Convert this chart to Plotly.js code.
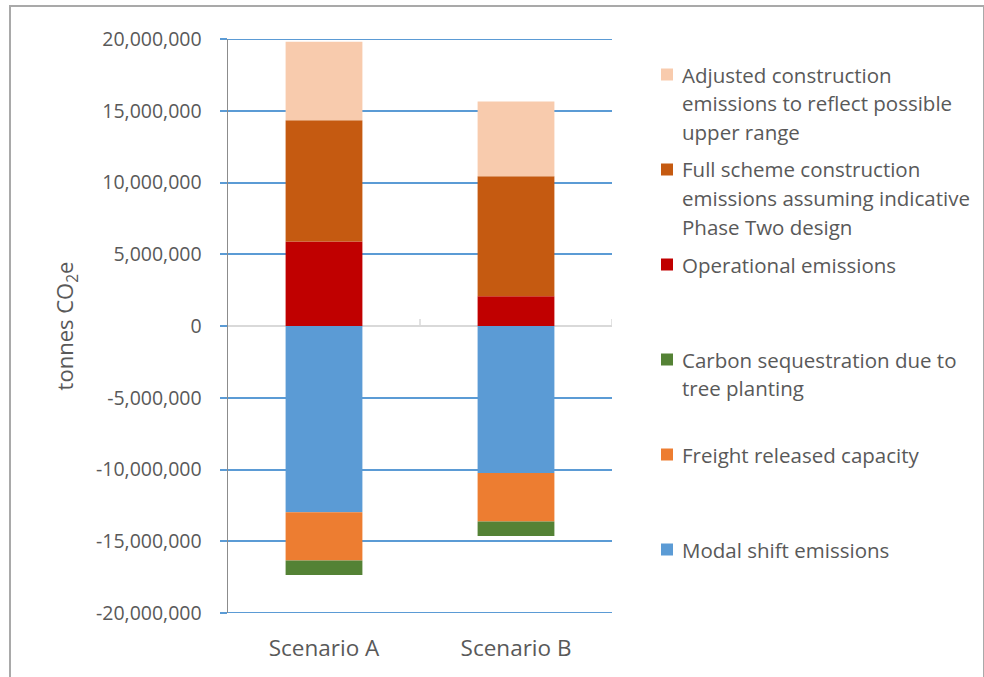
<!DOCTYPE html>
<html><head><meta charset="utf-8">
<script src="https://cdn.plot.ly/plotly-3.0.1.min.js"></script>
<style>
html,body{margin:0;padding:0;background:#fff;}
#chart{width:984px;height:677px;}
#frame{position:absolute;left:9px;top:5px;width:972px;height:700px;border:2px solid #a9a9a9;pointer-events:none;}
</style>
</head><body>
<div id="chart"></div><div id="frame"></div>
<script>
// ---- data ----
const categories = ['Scenario A', 'Scenario B'];
const operational = [5880000, 2070000];
const fullScheme = [8460000, 8370000];
const adjusted = [5460000, 5200000];
const modalShift = [-12980000, -10240000];
const freight = [-3370000, -3390000];
const carbon = [-1000000, -1000000];
const seriesNames = {
  adjusted: 'Adjusted construction<br>emissions to reflect possible<br>upper range',
  fullScheme: 'Full scheme construction<br>emissions assuming indicative<br>Phase Two design',
  operational: 'Operational emissions',
  carbon: 'Carbon sequestration due to<br>tree planting',
  freight: 'Freight released capacity',
  modalShift: 'Modal shift emissions'
};
const yTickVals = [-20000000, -15000000, -10000000, -5000000, 0, 5000000, 10000000, 15000000, 20000000];
const yTickText = ['-20,000,000', '-15,000,000', '-10,000,000', '-5,000,000', '0', '5,000,000', '10,000,000', '15,000,000', '20,000,000'];

// ---- styles ----
const colors = {
  adjusted: '#f8cbad', fullScheme: '#c55a11', operational: '#c00000',
  carbon: '#548235', freight: '#ed7d31', modalShift: '#5b9bd5'
};
const FONT = 'Open Sans, sans-serif';
const TXT = '#595959';
const GRID = '#5b9bd5';
const W = 984, H = 677, M = {l: 228, r: 372, t: 39, b: 64};
const PW = W - M.l - M.r, PH = H - M.t - M.b;
const px2x = px => (px - M.l) / PW;
const px2y = py => (H - M.b - py) / PH;

const seriesData = {operational, fullScheme, adjusted, modalShift, freight, carbon};
const stackOrder = ['operational', 'fullScheme', 'adjusted', 'modalShift', 'freight', 'carbon'];
const traces = stackOrder.map(k => ({
  type: 'bar', x: categories, y: seriesData[k], name: seriesNames[k].replace(/<br>/g, ' '),
  marker: {color: colors[k], line: {width: 0}}, showlegend: false, hoverinfo: 'y+name'
}));

// ---- manual legend (Excel-style even spacing) ----
const legendOrder = ['adjusted', 'fullScheme', 'operational', 'carbon', 'freight', 'modalShift'];
const annotations = [];
const shapes = [];
// gridlines at the range ends (Plotly omits them at the edges)
[yTickVals[0], yTickVals[yTickVals.length - 1]].forEach(v => shapes.push({
  type: 'line', xref: 'paper', yref: 'y', x0: 0, x1: 1, y0: v, y1: v,
  line: {color: GRID, width: 2}, layer: 'below'
}));
legendOrder.forEach((k, i) => {
  const y0 = 74.5 + 95 * i;
  seriesNames[k].split('<br>').forEach((line, j) => {
    annotations.push({
      text: line, xref: 'paper', yref: 'paper', x: px2x(680), y: px2y(y0 + 28.7 * j),
      xanchor: 'left', yanchor: 'middle', showarrow: false,
      font: {family: FONT, size: 20.5, color: TXT}
    });
  });
  shapes.push({
    type: 'rect', xref: 'paper', yref: 'paper', xsizemode: 'pixel', ysizemode: 'pixel',
    xanchor: px2x(667), yanchor: px2y(y0), x0: -6, x1: 6, y0: -6, y1: 6,
    fillcolor: colors[k], line: {width: 0}
  });
});
// category axis tick marks on the zero line
[0.5, 1.5].forEach(xv => shapes.push({
  type: 'line', xref: 'x', yref: 'y', ysizemode: 'pixel', yanchor: 0,
  x0: xv, x1: xv, y0: 0, y1: 7, line: {color: '#d9d9d9', width: 1.5}
}));

const layout = {
  width: W, height: H, margin: M,
  paper_bgcolor: 'rgba(0,0,0,0)', plot_bgcolor: 'rgba(0,0,0,0)',
  barmode: 'relative', bargap: 0.6,
  font: {family: FONT, color: TXT},
  xaxis: {
    type: 'category', range: [-0.5, 1.5], showgrid: false, zeroline: false, showline: false,
    ticks: '', ticklabelstandoff: 19, tickfont: {size: 22.5, color: TXT, family: FONT}
  },
  yaxis: {
    range: [-20000000, 20000000], tickvals: yTickVals, ticktext: yTickText,
    showgrid: true, gridcolor: GRID, gridwidth: 2,
    zeroline: true, zerolinecolor: '#d9d9d9', zerolinewidth: 2,
    showline: true, linecolor: '#8c8c8c', linewidth: 1.5,
    ticks: 'outside', ticklen: 7, tickcolor: GRID, tickwidth: 2,
    ticklabelstandoff: 14, tickfont: {size: 19.5, color: TXT, family: FONT},
    title: {text: 'tonnes CO<sub>2</sub>e', standoff: 16, font: {size: 22, color: TXT, family: FONT}},
    automargin: false
  },
  annotations, shapes, showlegend: false
};
Plotly.newPlot('chart', traces, layout, {displayModeBar: false, staticPlot: true});
</script>
</body></html>
